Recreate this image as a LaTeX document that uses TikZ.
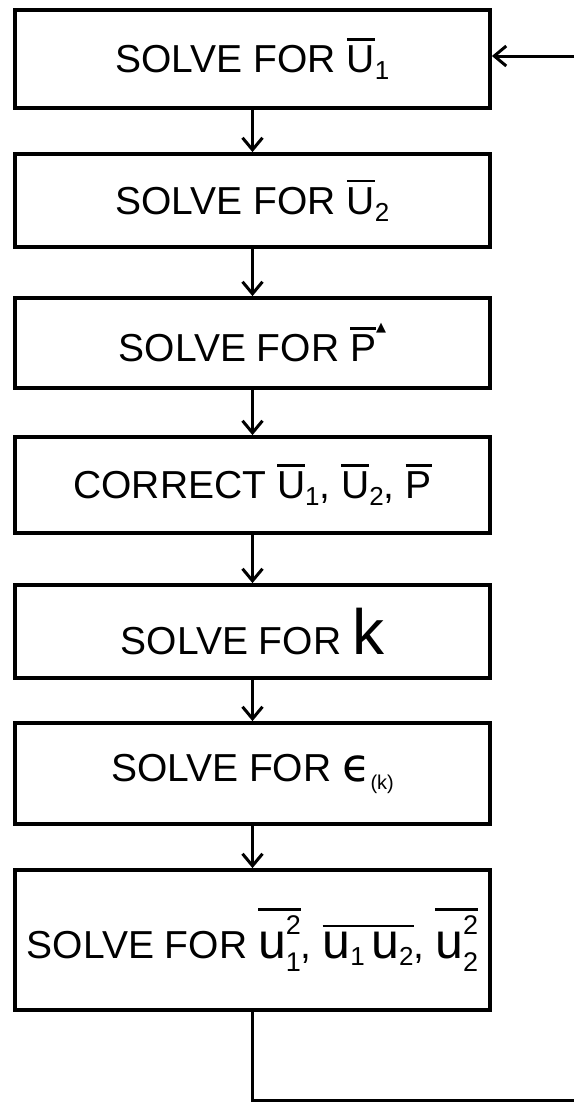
\documentclass[tikz,border=0pt]{standalone}
\usepackage{fontspec}
\setmainfont{Liberation Sans}
\newfontfamily\dejavu{DejaVu Sans}
\usetikzlibrary{arrows.meta}
\newcommand\ovl[1]{\leavevmode\vbox{\hrule height 2.8pt\kern 5pt\hbox{#1}}}
\newcommand\sbs[1]{\raisebox{-7pt}{\fontsize{26}{26}\selectfont #1}}
\newcommand\ssb[2]{\rlap{\raisebox{24pt}{\fontsize{27}{27}\selectfont #2}}\raisebox{-13pt}{\fontsize{27}{27}\selectfont #1}}
\newcommand\bigu{{\fontsize{50}{50}\selectfont u}}
\tikzset{
  box/.style={draw, line width=3.8pt, minimum width=475pt, inner sep=0pt,
    font=\fontsize{39}{44}\selectfont},
  flow/.style={line width=3pt, -{Straight Barb[length=12pt,width=20pt]}},
  plain/.style={line width=3pt}
}
\begin{document}
\begin{tikzpicture}[x=1pt,y=-1pt]
\useasboundingbox[fill=white] (0,0) rectangle (574,1106);
\node[box, minimum height=98pt]  (b1) at (252.5,59)  {SOLVE FOR \ovl{U}\sbs{1}};
\node[box, minimum height=93pt]  (b2) at (252.5,200.5) {SOLVE FOR \ovl{U}\sbs{2}};
\node[box, minimum height=90pt]  (b3) at (252.5,343) {SOLVE FOR \ovl{P}\raisebox{30pt}{\dejavu\fontsize{13}{13}\selectfont ▲}};
\node[box, minimum height=96pt]  (b4) at (252.5,485) {CORRECT \ovl{U}\sbs{1}, \ovl{U}\sbs{2}, \ovl{P}};
\node[box, minimum height=93pt]  (b5) at (252.5,631.5) {SOLVE FOR {\fontsize{64}{64}\selectfont k}};
\node[box, minimum height=101pt] (b6) at (252.5,773.5) {SOLVE FOR {\dejavu\fontsize{46}{46}\selectfont ϵ}\raisebox{-8pt}{\fontsize{20}{20}\selectfont(k)}};
\node[box, minimum height=140pt] (b7) at (252.5,940) {SOLVE FOR \ovl{\bigu\ssb{1}{2}}, \ovl{\bigu\sbs{1}\,\bigu\sbs{2}}, \ovl{\bigu\ssb{2}{2}}};
\coordinate (in) at (574,56);
\coordinate (out) at (574,1100);
\draw[flow] (in) -- (in -| b1.east);
\draw[flow] (b1) -- (b2);
\draw[flow] (b2) -- (b3);
\draw[flow] (b3) -- (b4);
\draw[flow] (b4) -- (b5);
\draw[flow] (b5) -- (b6);
\draw[flow] (b6) -- (b7);
\draw[plain] (b7.south) -- (b7.south |- out) -- (out);
\end{tikzpicture}
\end{document}
